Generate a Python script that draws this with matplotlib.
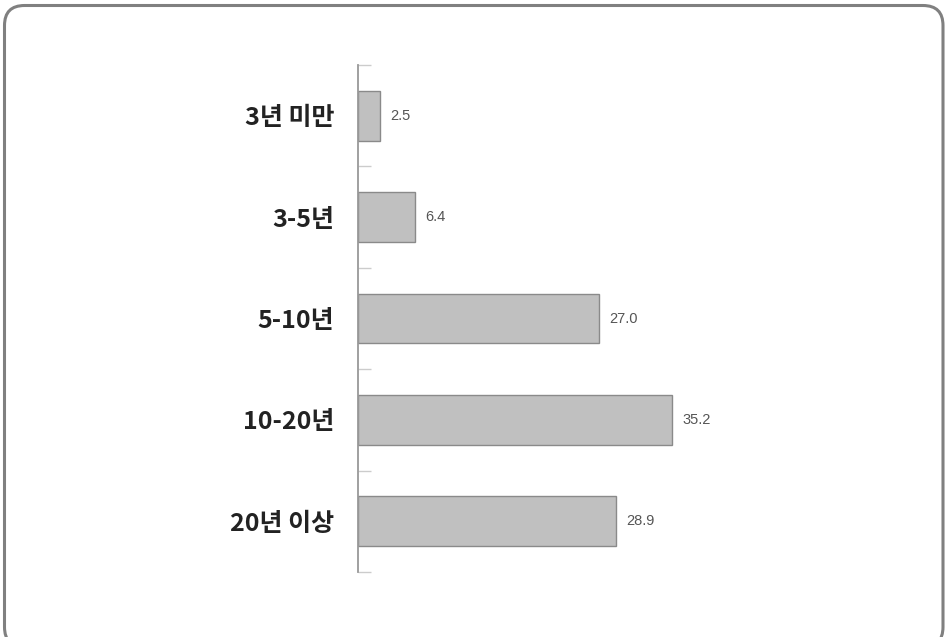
import numpy as np
import matplotlib.pyplot as plt
from matplotlib.patches import FancyBboxPatch

plt.rcParams['font.family'] = ['Noto Sans CJK KR', 'DejaVu Sans']

# 근속 기간별 비율 (%)
categories = ['3년 미만', '3-5년', '5-10년', '10-20년', '20년 이상']
values = [2.5, 6.4, 27.0, 35.2, 28.9]
value_labels = ['2.5', '6.4', '27.0', '35.2', '28.9']

fig = plt.figure(figsize=(9.46, 6.37), dpi=100)

# 둥근 테두리 (인치 좌표, 오른쪽/아래는 약간 잘림)
frame = FancyBboxPatch((0.045, -0.10), 9.43 - 0.045, 6.315 + 0.10,
                       boxstyle='round,pad=0,rounding_size=0.2',
                       transform=fig.dpi_scale_trans, fill=False,
                       edgecolor='#808080', linewidth=2.2)
fig.patches.append(frame)

ax = fig.add_axes([358 / 946, 1 - 572 / 637, (900 - 358) / 946, (572 - 65) / 637])

y = np.arange(len(categories))
ax.barh(y, values, height=0.49, color='#c0c0c0', edgecolor='#8a8a8a', linewidth=1.0)

for yi, v, lab in zip(y, values, value_labels):
    ax.annotate(lab, (v, yi), xytext=(7.5, 0), textcoords='offset points',
                va='center', ha='left', fontsize=10.5, color='#555555',
                family=['Liberation Sans', 'DejaVu Sans'])

ax.set_xlim(0, (900 - 358) / (314 / 35.2))
ax.set_ylim(len(categories) - 0.5, -0.5)

ax.set_yticks(y)
ax.set_yticklabels(categories, fontsize=18, fontweight='bold', color='#222222')
ax.tick_params(axis='y', which='major', length=0, pad=17)
ax.set_yticks(np.arange(-0.5, len(categories)), minor=True)
ax.tick_params(axis='y', which='minor', direction='in', length=9, width=1, color='#cccccc')
ax.set_xticks([])

for s in ['top', 'right', 'bottom']:
    ax.spines[s].set_visible(False)
ax.spines['left'].set_color('#999999')
ax.spines['left'].set_linewidth(1.3)

fig.savefig('out.png', dpi=100)
